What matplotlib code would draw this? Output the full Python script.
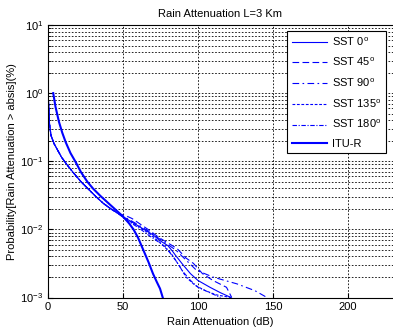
import numpy as np
from matplotlib import pyplot as plt
from matplotlib.ticker import LogLocator, NullFormatter

plt.rcParams['font.family'] = ['Liberation Sans', 'DejaVu Sans']
plt.rcParams['mathtext.fontset'] = 'custom'
plt.rcParams['mathtext.rm'] = 'Liberation Sans'

# common head of the SST curves (attenuation dB, log10 probability %)
head_x = [0, 0.5, 1, 2, 4, 6, 9, 13, 17, 22, 27, 32, 37, 42, 47]
head_lp = [0.05, -0.2, -0.45, -0.62, -0.74, -0.82, -0.94, -1.06, -1.17, -1.30,
           -1.41, -1.52, -1.62, -1.70, -1.77]

sst0_x = [52, 58, 64, 70, 75, 80, 83, 85, 90, 95, 100, 108, 115, 122]
sst0_lp = [-1.84, -1.92, -2.0, -2.08, -2.17, -2.24, -2.32, -2.38, -2.52, -2.65, -2.75, -2.85, -2.93, -3.0]
sst45_x = [52, 56, 62, 68, 74, 80, 86, 92, 97, 103, 110, 119, 122.5]
sst45_lp = [-1.80, -1.84, -1.93, -2.02, -2.12, -2.2, -2.28, -2.42, -2.5, -2.65, -2.75, -2.85, -3.0]
sst90_x = [52, 60, 68, 75, 85, 92, 99, 110, 126, 138, 146]
sst90_lp = [-1.83, -1.93, -2.04, -2.15, -2.3, -2.45, -2.6, -2.7, -2.8, -2.9, -3.0]
sst135_x = [52, 60, 68, 75, 82, 88, 92, 98, 105, 112, 122]
sst135_lp = [-1.85, -1.95, -2.07, -2.2, -2.35, -2.55, -2.7, -2.82, -2.9, -2.96, -3.0]
sst180_x = [52, 60, 68, 78, 85, 90, 95, 100, 110, 115]
sst180_lp = [-1.86, -1.97, -2.1, -2.25, -2.45, -2.62, -2.75, -2.85, -2.95, -3.0]

itu_x = [3.5, 5, 7.3, 9.5, 11.8, 15, 18.4, 22, 26.2, 30, 35, 42, 49.5, 54, 57, 60,
         63.5, 67, 70, 72.5, 74.7, 76.5]
itu_lp = [0.0, -0.2, -0.42, -0.58, -0.72, -0.88, -1.01, -1.16, -1.30, -1.40, -1.51,
          -1.65, -1.80, -1.91, -2.0, -2.12, -2.3, -2.48, -2.65, -2.77, -2.87, -3.0]

labels = ['SST 0$^{\\rm o}$', 'SST 45$^{\\rm o}$', 'SST 90$^{\\rm o}$',
          'SST 135$^{\\rm o}$', 'SST 180$^{\\rm o}$', 'ITU-R']

fig = plt.figure(figsize=(3.93, 3.29), dpi=100)
ax = fig.add_axes([0.1221, 0.0957, 0.8779, 0.8283])

styles = ['-', (0, (6, 3)), (0, (6, 3, 1.5, 3)), (0, (2.5, 1.5)), (0, (4, 1.5, 1, 1.5))]
tails = [(sst0_x, sst0_lp), (sst45_x, sst45_lp), (sst90_x, sst90_lp),
         (sst135_x, sst135_lp), (sst180_x, sst180_lp)]
for (tx, tlp), ls, lab in zip(tails, styles, labels[:5]):
    x = np.array(head_x + tx)
    p = 10.0 ** np.array(head_lp + tlp)
    ax.plot(x, p, color='b', lw=0.8, linestyle=ls, label=lab)
ax.plot(itu_x, 10.0 ** np.array(itu_lp), color='b', lw=1.5, label=labels[5])

ax.set_yscale('log')
ax.set_xlim(0, 230)
ax.set_ylim(1e-3, 10)
ax.set_xticks([0, 50, 100, 150, 200])
ax.yaxis.set_minor_locator(LogLocator(base=10, subs=np.arange(2, 10)))
ax.yaxis.set_minor_formatter(NullFormatter())
ax.grid(True, which='major', color='k', linestyle=(0, (2, 2)), lw=0.6)
ax.grid(True, which='minor', axis='y', color='k', linestyle=(0, (2, 2)), lw=0.6)
ax.tick_params(which='both', direction='in', labelsize=8, top=False, right=False)
ax.tick_params(which='minor', length=2)
ax.spines['right'].set_visible(False)

ax.set_title('Rain Attenuation L=3 Km', fontsize=8, pad=6)
ax.set_xlabel('Rain Attenuation (dB)', fontsize=8, labelpad=3)
ax.set_ylabel('Probability[Rain Attenuation > absis](%)', fontsize=8, labelpad=2)

leg = ax.legend(loc='upper right', bbox_to_anchor=(0.9814, 0.9067), bbox_transform=fig.transFigure,
                borderaxespad=0, fontsize=8, fancybox=False, framealpha=1, edgecolor='k',
                handlelength=3.2, labelspacing=0.75, handletextpad=0.4)
leg.get_frame().set_linewidth(0.8)

plt.savefig('out.png', dpi=100)
